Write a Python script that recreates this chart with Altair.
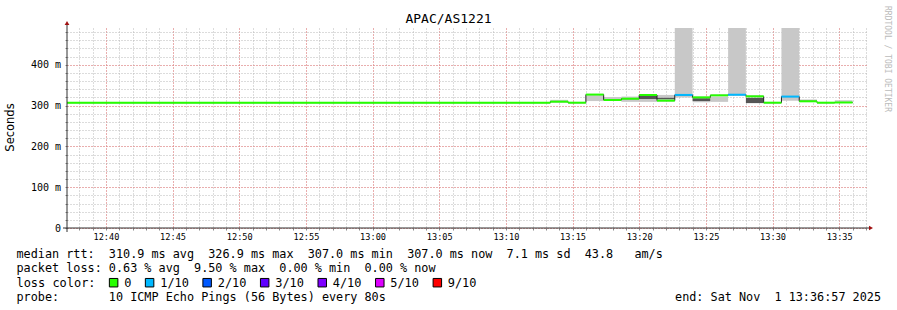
import altair as alt
import pandas as pd

MONO = "DejaVu Sans Mono"
NB = "\u00a0"
DAY = "2025-11-01T"

# step edges (80 s RRD steps) and per-step values
edges = ["12:37:05", "13:13:20", "13:14:40", "13:16:00", "13:17:20", "13:18:40",
         "13:20:00", "13:21:20", "13:22:40", "13:24:00", "13:25:20", "13:26:40",
         "13:28:00", "13:29:20", "13:30:40", "13:32:00", "13:33:20", "13:34:40",
         "13:36:00"]
median = [307, 309.5, 307, 326.9, 313.6, 316.8, 325.9, 312, 326, 320, 325, 326.5,
          322.6, 307, 322, 310.4, 307, 307.5]
loss = ["0", "0", "0", "0", "0", "0", "0", "0", "1/10", "0", "0", "1/10",
        "0", "0", "1/10", "0", "0", "0"]
light_lo = [None, 309.5, None, 311, 313, 309, 309, 319, 320, 308, 309, 326,
            None, None, 312, 310, None, 309]
light_hi = [None, 314, None, 325, 321, 322, 316, 326, 490, 311, 322, 490,
            None, None, 490, 315, None, 313]
dark_lo = [None, None, None, None, None, None, 316, 315, None, 311, None, None,
           306, None, None, None, None, None]
dark_hi = [None, None, None, None, None, None, 323.4, 319, None, 318, None, None,
           319, None, None, None, None, None]
x_window = ["12:37:05", "13:37:05"]

loss_labels = ["0", "1/10", "2/10", "3/10", "4/10", "5/10", "9/10"]
loss_colors = ["#26ff00", "#00b8ff", "#0059ff", "#5e00ff", "#7e00ff", "#dd00ff", "#ff0000"]

y_major = [0, 100, 200, 300, 400]
y_minor = list(range(0, 491, 20))

lines = [
    "median rtt:  310.9 ms avg  326.9 ms max  307.0 ms min  307.0 ms now  7.1 ms sd  43.8   am/s",
    "packet loss: 0.63 % avg  9.50 % max  0.00 % min  0.00 % now",
    "loss color:  ",
    "probe:       10 ICMP Echo Pings (56 Bytes) every 80s",
]
end_text = "end: Sat Nov  1 13:36:57 2025"
title_text = "APAC/AS1221"
ylabel = "Seconds"
watermark = "RRDTOOL / TOBI OETIKER"


def iso(t):
    return DAY + t + "Z"


def ms(t):
    return int(pd.Timestamp(iso(t)).value // 10**6)


# ---------------- tables ----------------
starts = [iso(e) for e in edges[:-1]]
ends = [iso(e) for e in edges[1:]]
seg = pd.DataFrame({"start": starts, "end": ends, "median": median, "loss": loss,
                    "llo": light_lo, "lhi": light_hi, "dlo": dark_lo, "dhi": dark_hi})
light_df = seg.dropna(subset=["llo"])
dark_df = seg.dropna(subset=["dlo"])
step_df = pd.DataFrame({"t": starts + [ends[-1]], "v": median + [median[-1]]})

W, H = 800, 200
TX = -50.5            # left edge of the legend text block (plot coords)
LEG_FS = 11.95        # font size of the loss-colour line
CW = LEG_FS * 0.602   # DejaVu Sans Mono advance

# loss-colour legend line: squares sit in character cells of the monospace line
legend_line = lines[2] + "  ".join("\u25a0 " + lab for lab in loss_labels)
sq_cols = [i for i, ch in enumerate(legend_line) if ch == "\u25a0"]
legend_df = pd.DataFrame({"loss": loss_labels,
                          "px": [TX + (c + 0.5) * CW for c in sq_cols]})

xs = alt.Scale(type="utc", domain=[ms(x_window[0]), ms(x_window[1])])
ys = alt.Scale(domain=[0, 490], nice=False, zero=False)
loss_scale = alt.Scale(domain=loss_labels, range=loss_colors)

minor_x = alt.Axis(orient="bottom", title=None, labels=False, domain=False,
                   tickCount=60, grid=True,
                   gridColor="#b8b8b8", gridDash=[1, 2], gridWidth=1,
                   ticks=True, tickSize=2, tickColor="#888888")
minor_y = alt.Axis(orient="left", title=None, labels=False, domain=False,
                   values=y_minor, grid=True, gridColor="#b8b8b8", gridDash=[1, 2],
                   ticks=True, tickSize=2, tickColor="#888888")
major_x = alt.Axis(orient="bottom", title=None, domain=False, format="%H:%M",
                   tickCount=12, grid=True,
                   gridColor="#ff6060", gridDash=[1, 2], gridOpacity=0.75,
                   ticks=False, labelFont=MONO, labelFontSize=8.6, labelColor="#000000",
                   labelPadding=8.7, labelBaseline="middle", labelFlush=False)
major_y = alt.Axis(orient="left", title=None, domain=False, values=y_major, grid=True,
                   gridColor="#ff6060", gridDash=[1, 2], gridOpacity=0.75,
                   ticks=False, labelFont=MONO, labelFontSize=10, labelColor="#000000",
                   labelPadding=6.5, labelBaseline="middle", labelAlign="right",
                   labelExpr=f"datum.value == 0 ? '0{NB}{NB}' : datum.value + '{NB}m'")

light = alt.Chart(light_df).mark_rect(color="#c8c8c8").encode(
    x=alt.X("start:T", scale=xs, axis=minor_x), x2="end:T",
    y=alt.Y("llo:Q", scale=ys, axis=minor_y), y2="lhi:Q")
dark = alt.Chart(dark_df).mark_rect(color="#555555").encode(
    x=alt.X("start:T", scale=xs, axis=None), x2="end:T",
    y=alt.Y("dlo:Q", scale=ys, axis=None), y2="dhi:Q")
stepline = alt.Chart(step_df).mark_line(interpolate="step-after", color="#202020",
                                        strokeWidth=1).encode(
    x=alt.X("t:T", scale=xs, axis=None), y=alt.Y("v:Q", scale=ys, axis=None))

med = alt.Chart(seg).mark_rule(strokeWidth=2, strokeCap="butt").encode(
    x=alt.X("start:T", scale=xs, axis=major_x), x2="end:T",
    y=alt.Y("median:Q", scale=ys, axis=major_y),
    stroke=alt.Stroke("loss:N", scale=loss_scale, legend=None))

legend_sq = alt.Chart(legend_df).mark_square(filled=True, size=72, stroke="#000000",
                                             strokeWidth=1, opacity=1).encode(
    x=alt.X("px:Q", scale=None, axis=None), y=alt.value(254.7),
    fill=alt.Fill("loss:N", scale=loss_scale, legend=None))

one = pd.DataFrame({"a": [0]})


def txt(s, x, y, size=11.8, align="left", angle=0, color="#000000", font=MONO):
    return alt.Chart(pd.DataFrame({"s": [s.replace(" ", NB)]})).mark_text(
        font=font, fontSize=size, align=align, baseline="middle", angle=angle,
        color=color).encode(text="s:N", x=alt.value(x), y=alt.value(y))


yline = alt.Chart(one).mark_rule(color="#303030", strokeWidth=1).encode(
    x=alt.value(0), y=alt.value(-5), y2=alt.value(H + 4))
xline = alt.Chart(one).mark_rule(color="#303030", strokeWidth=1).encode(
    y=alt.value(H), x=alt.value(-4), x2=alt.value(W + 3))
up = alt.Chart(one).mark_point(shape="triangle-up", filled=True, size=22,
                               color="#a01010", opacity=1).encode(
    x=alt.value(0), y=alt.value(-5))
right = alt.Chart(one).mark_point(shape="triangle-right", filled=True, size=22,
                                  color="#a01010", opacity=1).encode(
    x=alt.value(W + 4), y=alt.value(H))

texts = [
    txt(title_text, 381.5, -9, size=13, align="center"),
    txt(ylabel, -56, 99.5, size=11.5, align="center", angle=270, font="DejaVu Sans"),
    txt(watermark, 820, 31, size=8, align="center", angle=90, color="#bbbbbb"),
    txt(lines[0], TX, 226.3),
    txt(lines[1], TX, 240),
    txt(legend_line.replace("\u25a0", " "), TX, 254.7, size=LEG_FS),
    txt(lines[3], TX, 268.7),
    txt(end_text, 814, 268.7, align="right"),
]

chart = alt.layer(light, dark, stepline, med, legend_sq, yline, xline, up, right,
                  *texts).resolve_axis(
    x="independent", y="independent"
).properties(
    width=W, height=H, autosize="none",
    padding={"left": 67, "top": 28, "right": 30, "bottom": 82},
    background="#ffffff",
).configure_view(stroke=None)

chart.save("out.html", embed_options={"renderer": "svg", "actions": False})
